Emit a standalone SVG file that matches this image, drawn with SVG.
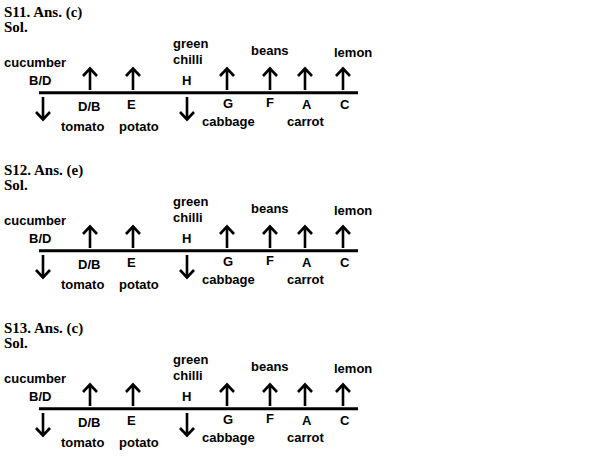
<svg xmlns="http://www.w3.org/2000/svg" width="606" height="456" viewBox="0 0 606 456">
<style>
.t{font-family:"Liberation Serif","Times New Roman",serif;font-weight:bold;font-size:15px;fill:#000}
.l{font-family:"Liberation Sans",Arial,sans-serif;font-weight:bold;font-size:13px;fill:#000}
.ln{stroke:#000;stroke-width:3;fill:none}
.ar{stroke:#000;stroke-width:2.6;fill:none;stroke-linecap:butt;stroke-linejoin:miter}
</style>
<defs>
<g id="up"><path class="ar" d="M0,90 V69 M-7,76 L0,68.5 L7,76"/></g>
<g id="dn"><path class="ar" d="M0,97 V119 M-7,112 L0,119.5 L7,112"/></g>
</defs>
<rect width="606" height="456" fill="#fff"/>

<g id="s11">
<text class="t" x="4" y="17">S11. Ans. (c)</text>
<text class="t" x="4" y="32">Sol.</text>
<g id="s11-connectors">
<line class="ln" x1="39" y1="92.7" x2="358" y2="92.7"/>
<use href="#dn" x="43"/><use href="#dn" x="187"/>
<use href="#up" x="90"/><use href="#up" x="133"/><use href="#up" x="227"/><use href="#up" x="270"/><use href="#up" x="305"/><use href="#up" x="343"/>
</g>
<g id="s11-labels">
<text class="l" x="4" y="67">cucumber</text>
<text class="l" x="29" y="85">B/D</text>
<text class="l" x="78" y="111">D/B</text>
<text class="l" x="127" y="109">E</text>
<text class="l" x="61" y="131">tomato</text>
<text class="l" x="119" y="131">potato</text>
<text class="l" x="173" y="48">green</text>
<text class="l" x="173" y="64">chilli</text>
<text class="l" x="182" y="85">H</text>
<text class="l" x="251" y="55">beans</text>
<text class="l" x="334" y="57">lemon</text>
<text class="l" x="223" y="108">G</text>
<text class="l" x="266" y="107">F</text>
<text class="l" x="302" y="109">A</text>
<text class="l" x="340" y="109">C</text>
<text class="l" x="202" y="126">cabbage</text>
<text class="l" x="287" y="126">carrot</text>
</g>
</g>

<g id="s12" transform="translate(0,158)">
<text class="t" x="4" y="17">S12. Ans. (e)</text>
<text class="t" x="4" y="32">Sol.</text>
<g id="s12-connectors">
<line class="ln" x1="39" y1="92.7" x2="358" y2="92.7"/>
<use href="#dn" x="43"/><use href="#dn" x="187"/>
<use href="#up" x="90"/><use href="#up" x="133"/><use href="#up" x="227"/><use href="#up" x="270"/><use href="#up" x="305"/><use href="#up" x="343"/>
</g>
<g id="s12-labels">
<text class="l" x="4" y="67">cucumber</text>
<text class="l" x="29" y="85">B/D</text>
<text class="l" x="78" y="111">D/B</text>
<text class="l" x="127" y="109">E</text>
<text class="l" x="61" y="131">tomato</text>
<text class="l" x="119" y="131">potato</text>
<text class="l" x="173" y="48">green</text>
<text class="l" x="173" y="64">chilli</text>
<text class="l" x="182" y="85">H</text>
<text class="l" x="251" y="55">beans</text>
<text class="l" x="334" y="57">lemon</text>
<text class="l" x="223" y="108">G</text>
<text class="l" x="266" y="107">F</text>
<text class="l" x="302" y="109">A</text>
<text class="l" x="340" y="109">C</text>
<text class="l" x="202" y="126">cabbage</text>
<text class="l" x="287" y="126">carrot</text>
</g>
</g>

<g id="s13" transform="translate(0,316)">
<text class="t" x="4" y="17">S13. Ans. (c)</text>
<text class="t" x="4" y="32">Sol.</text>
<g id="s13-connectors">
<line class="ln" x1="39" y1="92.7" x2="358" y2="92.7"/>
<use href="#dn" x="43"/><use href="#dn" x="187"/>
<use href="#up" x="90"/><use href="#up" x="133"/><use href="#up" x="227"/><use href="#up" x="270"/><use href="#up" x="305"/><use href="#up" x="343"/>
</g>
<g id="s13-labels">
<text class="l" x="4" y="67">cucumber</text>
<text class="l" x="29" y="85">B/D</text>
<text class="l" x="78" y="111">D/B</text>
<text class="l" x="127" y="109">E</text>
<text class="l" x="61" y="131">tomato</text>
<text class="l" x="119" y="131">potato</text>
<text class="l" x="173" y="48">green</text>
<text class="l" x="173" y="64">chilli</text>
<text class="l" x="182" y="85">H</text>
<text class="l" x="251" y="55">beans</text>
<text class="l" x="334" y="57">lemon</text>
<text class="l" x="223" y="108">G</text>
<text class="l" x="266" y="107">F</text>
<text class="l" x="302" y="109">A</text>
<text class="l" x="340" y="109">C</text>
<text class="l" x="202" y="126">cabbage</text>
<text class="l" x="287" y="126">carrot</text>
</g>
</g>
</svg>
